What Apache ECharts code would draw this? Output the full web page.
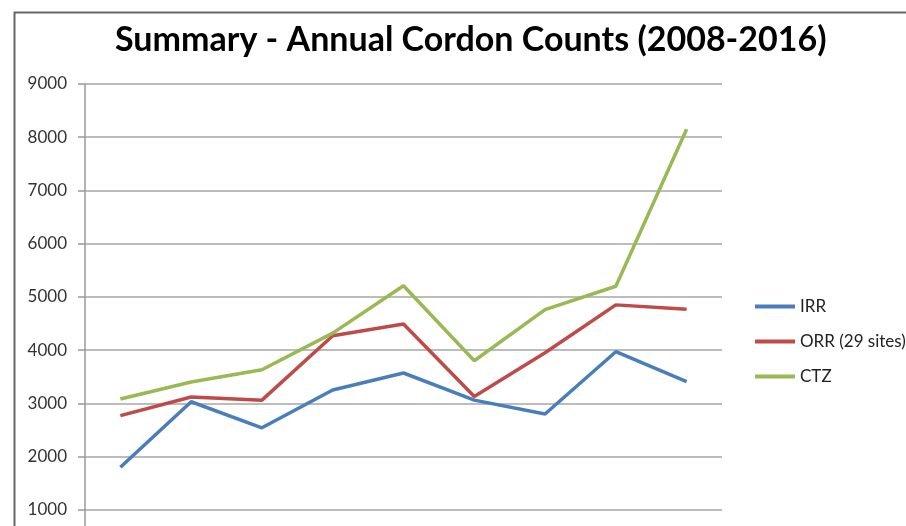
<!doctype html>
<html>
<head>
<meta charset="utf-8">
<title>Summary - Annual Cordon Counts</title>
<script src="https://cdn.jsdelivr.net/npm/echarts@6/dist/echarts.min.js"></script>
<style>
  html, body { margin: 0; padding: 0; background: #fff; }
  #main { width: 906px; height: 526px; }
</style>
</head>
<body>
<div id="main"></div>
<script>
// years on the category axis
var years = ['2008', '2009', '2010', '2011', '2012', '2013', '2014', '2015', '2016'];
// counts
var irr = [1800, 3030, 2540, 3250, 3570, 3060, 2800, 3970, 3410];
var orr = [2770, 3120, 3060, 4270, 4490, 3130, 3950, 4850, 4770];
var ctz = [3080, 3400, 3630, 4320, 5210, 3800, 4760, 5200, 8150];
var seriesNames = ['IRR', 'ORR (29 sites)', 'CTZ'];

var myChart = echarts.init(document.getElementById('main'));

function lineSeries(name, data, color) {
  return {
    name: name,
    type: 'line',
    data: data,
    symbol: 'none',
    smooth: false,
    lineStyle: { width: 3.5, color: color },
    itemStyle: { color: color }
  };
}

var option = {
  animation: false,
  backgroundColor: '#fff',
  textStyle: { fontFamily: 'Lato, "Open Sans", sans-serif' },
  graphic: [{
    type: 'rect',
    left: 12, top: 10,
    shape: { width: 1000, height: 1000 },
    style: { fill: 'none', stroke: '#666', lineWidth: 2 },
    silent: true
  }],
  title: {
    text: 'Summary - Annual Cordon Counts (2008-2016)',
    left: 110,
    top: 18,
    textStyle: { fontSize: 34, fontWeight: 'bold', color: '#000', fontFamily: 'Lato' }
  },
  legend: {
    orient: 'vertical',
    left: 750,
    top: 293,
    itemWidth: 40,
    itemHeight: 4,
    itemGap: 18,
    icon: 'rect',
    textStyle: { fontSize: 17, color: '#222', fontFamily: 'Lato' },
    data: seriesNames
  },
  // the plot runs on below the picture, as in the source
  grid: { left: 85, top: 84, width: 637, height: 479, outerBoundsMode: 'none' },
  xAxis: {
    type: 'category',
    data: years,
    boundaryGap: true,
    axisLine: { lineStyle: { color: '#999' } },
    axisTick: { show: false },
    axisLabel: { show: false }
  },
  yAxis: {
    type: 'value',
    min: 0,
    max: 9000,
    interval: 1000,
    axisLine: { show: true, lineStyle: { color: '#999', width: 1.5 } },
    axisTick: { show: true, inside: false, length: 7, lineStyle: { color: '#999', width: 1.5 } },
    axisLabel: {
      fontSize: 17, color: '#333', margin: 18, fontFamily: 'Lato',
      formatter: function (v) { return String(v); }
    },
    splitLine: { lineStyle: { color: '#a6a6a6', width: 1.5 } }
  },
  series: [
    lineSeries(seriesNames[0], irr, '#4a7ebb'),
    lineSeries(seriesNames[1], orr, '#be4b48'),
    lineSeries(seriesNames[2], ctz, '#98b954')
  ]
};
myChart.setOption(option);
</script>
</body>
</html>
